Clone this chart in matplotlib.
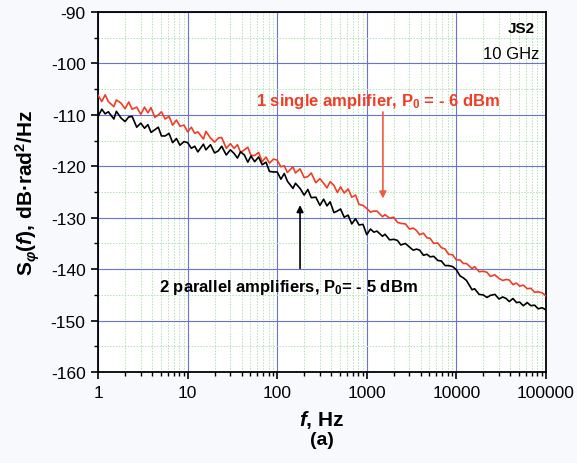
import matplotlib
matplotlib.use('Agg')
import matplotlib.pyplot as plt
from matplotlib.ticker import FixedLocator, FixedFormatter, LogLocator, MultipleLocator

plt.rcParams['font.family'] = ['Liberation Sans', 'DejaVu Sans']
plt.rcParams['axes.unicode_minus'] = False
plt.rcParams['mathtext.fontset'] = 'custom'
plt.rcParams['mathtext.rm'] = 'Liberation Sans:bold'
plt.rcParams['mathtext.it'] = 'Liberation Sans:italic:bold'
plt.rcParams['mathtext.bf'] = 'Liberation Sans:bold'

# frequencies (Hz), 24 points per decade
freq = [
    1, 1.1, 1.2, 1.3, 1.5, 1.6, 1.8, 2.0, 2.2, 2.4, 2.7, 3.0, 3.3, 3.6, 3.9, 4.3, 4.7, 5.1, 5.6, 6.2, 6.8, 7.5, 8.2, 9.1,
    10, 11, 12, 13, 15, 16, 18, 20, 22, 24, 27, 30, 33, 36, 39, 43, 47, 51, 56, 62, 68, 75, 82, 91,
    100, 110, 120, 130, 150, 160, 180, 200, 220, 240, 270, 300, 330, 360, 390, 430, 470, 510, 560, 620, 680, 750, 820, 910,
    1000, 1100, 1200, 1300, 1500, 1600, 1800, 2000, 2200, 2400, 2700, 3000, 3300, 3600, 3900, 4300, 4700, 5100, 5600, 6200, 6800, 7500, 8200, 9100,
    10000, 11000, 12000, 13000, 15000, 16000, 18000, 20000, 22000, 24000, 27000, 30000, 33000, 36000, 39000, 43000, 47000, 51000, 56000, 62000, 68000, 75000, 82000, 91000,
    100000,
]

# 1 single amplifier, P0 = -6 dBm
single_amp = [
    -106.2, -107.4, -106.1, -107.4, -108.4, -107.1, -107.7, -108.8, -107.5, -108.9, -108.5, -109.9, -108.5, -109.6, -108.6, -110.5, -110.0, -109.4, -110.8, -110.3, -112.0, -111.0, -112.2, -112.0,
    -113.3, -112.4, -113.6, -113.3, -114.7, -113.2, -114.5, -115.3, -114.5, -114.4, -116.5, -115.6, -116.5, -115.8, -117.3, -116.8, -116.3, -117.9, -117.9, -117.3, -119.1, -118.2, -119.4, -118.6,
    -118.8, -120.1, -119.9, -121.2, -120.1, -121.3, -120.5, -122.2, -122.0, -121.3, -123.2, -122.4, -123.3, -124.2, -123.0, -123.7, -125.1, -124.0, -125.2, -124.4, -126.0, -125.6, -127.4, -127.6,
    -128.2, -128.9, -128.7, -128.7, -129.8, -129.4, -130.1, -129.9, -130.9, -131.1, -131.2, -132.2, -132.0, -132.5, -133.3, -133.0, -133.9, -134.0, -135.0, -134.9, -135.8, -136.1, -137.1, -137.2,
    -138.2, -138.2, -138.9, -138.9, -139.9, -139.5, -140.5, -140.4, -140.6, -141.4, -141.1, -141.8, -142.2, -142.0, -142.1, -143.0, -142.7, -143.3, -143.1, -143.8, -143.7, -144.5, -144.4, -144.6,
    -145.2,
]

# 2 parallel amplifiers, P0 = -5 dBm
parallel_amp = [
    -110.3, -108.9, -109.8, -109.4, -110.8, -109.3, -110.6, -111.3, -110.4, -110.3, -112.4, -111.6, -112.6, -111.9, -113.4, -112.9, -112.4, -114.1, -114.1, -113.6, -115.4, -114.6, -115.9, -115.2,
    -115.4, -116.5, -116.1, -117.2, -115.7, -116.8, -115.8, -117.4, -117.0, -116.1, -117.8, -116.8, -117.5, -118.4, -117.2, -117.8, -119.2, -118.0, -119.1, -118.2, -119.7, -119.2, -121.0, -121.1,
    -121.1, -122.5, -121.4, -122.9, -124.3, -123.3, -124.3, -125.6, -124.5, -126.1, -126.0, -127.6, -126.4, -127.7, -126.9, -129.0, -128.7, -128.3, -129.9, -129.5, -131.2, -130.2, -131.4, -131.3,
    -133.3, -132.2, -132.8, -132.6, -133.6, -133.2, -134.3, -134.2, -134.4, -135.3, -135.0, -135.7, -136.3, -136.1, -136.3, -137.3, -137.1, -137.6, -137.5, -138.3, -138.4, -139.3, -139.3, -139.5,
    -140.1, -141.3, -141.7, -142.2, -144.0, -143.8, -144.9, -145.0, -145.5, -145.1, -144.9, -145.8, -145.4, -145.7, -146.3, -145.7, -146.5, -146.4, -147.1, -146.5, -147.1, -147.0, -147.7, -147.5,
    -147.9,
]

x_ticks = [1, 10, 100, 1000, 10000, 100000]
x_tick_labels = ['1', '10', '100', '1000', '10000', '100000']
y_ticks = [-160, -150, -140, -130, -120, -110, -100, -90]

red = '#ef3d26'

fig = plt.figure(figsize=(5.77, 4.64), dpi=100, facecolor='#f8f9fc')
ax = fig.add_axes([0.170, 0.196, 0.776, 0.776])
ax.set_facecolor('white')

ax.plot(freq, single_amp, color=red, lw=1.2, zorder=3)
ax.plot(freq, parallel_amp, color='black', lw=1.2, zorder=4)

ax.set_xscale('log')
ax.set_xlim(1, 100000)
ax.set_ylim(-160, -90)
ax.xaxis.set_major_locator(FixedLocator(x_ticks))
ax.xaxis.set_major_formatter(FixedFormatter(x_tick_labels))
ax.xaxis.set_minor_locator(LogLocator(base=10, subs=range(2, 10), numticks=20))
ax.xaxis.set_minor_formatter(FixedFormatter([]))
ax.yaxis.set_major_locator(FixedLocator(y_ticks))
ax.yaxis.set_minor_locator(MultipleLocator(5))

ax.grid(which='major', color='#6a72d8', lw=0.8, zorder=1)
ax.grid(which='minor', color='#b3e2b3', lw=0.7, ls=(0, (1.5, 1.5)), zorder=1)
ax.set_axisbelow(True)

ax.tick_params(which='major', direction='out', length=5, width=1.2, labelsize=12.5, pad=4,
               top=False, right=False)
ax.tick_params(which='minor', direction='out', length=3, width=1.0, top=False, right=False)
for s in ax.spines.values():
    s.set_linewidth(1.3)

ax.set_ylabel(r'S$_{\varphi}$($\mathit{f}$), dB·rad$^2$/Hz', fontsize=15, fontweight='bold', labelpad=6)
ax.set_xlabel(r'$\mathit{f}$, Hz', fontsize=15, fontweight='bold', labelpad=6)
fig.text(0.558, 0.050, '(a)', fontsize=14, fontweight='bold', ha='center', va='center')

ax.text(0.975, 0.955, 'JS2', transform=ax.transAxes, fontsize=11, fontweight='bold',
        ha='right', va='center')
ax.text(0.985, 0.885, '10 GHz', transform=ax.transAxes, fontsize=12,
        ha='right', va='center')

ax.annotate('', xy=(1515, -126.8), xytext=(1515, -108.9),
            arrowprops=dict(arrowstyle='-|>', color='#f05a3e', lw=1.2, mutation_scale=10))
ax.text(1330, -107.2, '1 single amplifier, P$_0$ = - 6 dBm', color=red,
        fontsize=12, fontweight='bold', ha='center', va='center')

ax.annotate('', xy=(180, -127.0), xytext=(180, -140.4),
            arrowprops=dict(arrowstyle='-|>', color='black', lw=1.2, mutation_scale=10))
ax.text(135, -143.3, '2 parallel amplifiers, P$_0$= - 5 dBm', color='black',
        fontsize=12, fontweight='bold', ha='center', va='center')

fig.savefig('out.png', dpi=100, facecolor=fig.get_facecolor())
